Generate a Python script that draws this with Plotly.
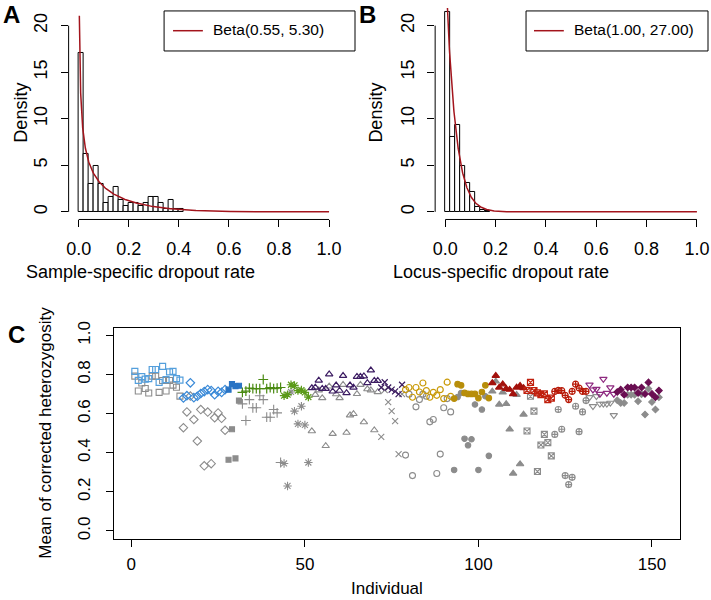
import math
import numpy as np
import plotly.graph_objects as go

W, H = 711, 600

# ---------------- data ----------------
bin_width = 0.02
dens_sample = [17.1, 6.25, 2.96, 4.93, 2.96, 0.99, 1.64, 2.63, 1.32, 0.66, 0.99,
               0.99, 0.66, 0.99, 1.64, 1.64, 0.99, 0.33, 1.32, 0.33, 0.33]
dens_locus = [21.5, 8.04, 9.31, 4.88, 3.12, 2.12, 0.53, 0.18, 0.08]
beta_sample = (0.55, 5.30)
beta_locus = (1.00, 27.00)

x_ticks_ab = [0, 0.2, 0.4, 0.6, 0.8, 1.0]
x_ticklabels_ab = ["0.0", "0.2", "0.4", "0.6", "0.8", "1.0"]
y_ticks_ab = [0, 5, 10, 15, 20]
x_ticks_c = [0, 50, 100, 150]
y_ticks_c = [0, 0.2, 0.4, 0.6, 0.8, 1.0]
y_ticklabels_c = ["0.0", "0.2", "0.4", "0.6", "0.8", "1.0"]

corrected = [
    .816, .770, .790, .777, .779, .826, .826, .760, .842, .774, .814, .816, .779, .772,
    .680, .692, .758, .682, .689, .703, .713, .723, .718, .697, .714, .709, .723,
    .723, .751, .741, .743,
    .709, .715, .731, .728, .728, .728, .775, .728, .734, .728, .731, .734,
    .692, .697, .748, .745, .718, .721, .709, .685,
    .731, .734, .770, .728, .728, .802, .714, .745, .718, .794, .706, .745, .734, .789,
    .789, .792, .757, .822, .769, .769,
    .734, .761, .734, .723, .714, .700, .748,
    .723, .734, .684, .734, .711, .757, .718, .684, .709, .694, .723, .677, .761, .689,
    .677, .751, .745, .706, .701, .701, .701, .680, .711, .745, .680,
    .757, .794, .734, .751, .728, .723, .701, .734, .743, .731,
    .719, .760, .718, .706, .697, .702, .672, .680,
    .714, .719, .718, .694, .672, .714, .751, .731, .714, .714,
    .748, .723, .726, .701, .777, .706, .734, .701,
    .711, .723, .697, .734, .734, .734, .706, .734, .701, .760, .701, .684, .718,
]
uncorrected = [
    .792, .716, .757, .729, .706, .792, .792, .709, .770, .716, .770, .746, .735, .690,
    .528, .609, .690, .570, .460, .621, .333, .608, .344, .579, .604, .576, .515,
    .364, .520, .371, .667,
    .650, .565, .672, .630, .630, .692, .672, .582, .582, .621, .604, .350,
    .345, .230, .711, .613, .548, .638, .542, .350,
    .511, .697, .720, .680, .435, .740, .497, .700, .680, .748, .503, .592, .599, .701,
    .748, .557, .726, .720, .516, .711,
    .481, .720, .659, .613, .562, .393, .700,
    .388, .700, .283, .635, .672, .700, .689, .558, .570, .294, .393, .630, .677, .609,
    .312, .685, .706, .472, .438, .469, .647, .312, .621, .689, .384,
    .714, .765, .647, .709, .650, .520, .294, .697, .342, .596,
    .511, .689, .613, .304, .440, .494, .452, .384,
    .494, .621, .520, .283, .237, .274, .638, .508, .609, .667,
    .684, .638, .689, .650, .650, .650, .655, .592,
    .669, .655, .655, .697, .697, .697, .664, .700, .596, .728, .660, .621, .684,
]
group_sizes = [14, 13, 4, 12, 8, 20, 7, 14, 11, 10, 8, 10, 8, 13]
group_symbols = ["square-open", "diamond-open", "square", "cross-thin", "asterisk",
                 "triangle-up-open", "x-thin", "circle-open", "circle", "triangle-up",
                 "square-x-open", "circle-cross-open", "triangle-down-open", "diamond"]
group_colors = ["#549fdc", "#3a8ad8", "#2a74c4", "#4a8a12", "#5a9a18",
                "#3c1c62", "#3a1a5e", "#c99a08", "#b88e0a", "#a3110c",
                "#c0200e", "#b81a08", "#8e2a80", "#6a0e52"]
group_sizes_px = [6, 6.5, 5, 7, 7, 6.5, 6, 6, 5.5, 6.5, 6, 6, 6.5, 5]
gray = "#8c8c8c"
curve_color = "#a3141c"


def beta_pdf(x, a, b):
    lb = math.lgamma(a) + math.lgamma(b) - math.lgamma(a + b)
    return np.exp((a - 1) * np.log(x) + (b - 1) * np.log1p(-x) - lb)


fig = go.Figure()

# ---------- Panel A ----------
centers_a = [bin_width * (i + 0.5) for i in range(len(dens_sample))]
fig.add_trace(go.Bar(x=centers_a, y=dens_sample, width=bin_width,
                     marker=dict(color="white", line=dict(color="black", width=1)),
                     xaxis="x", yaxis="y", showlegend=False))
xa = np.concatenate([np.geomspace(0.0028, 0.05, 200), np.linspace(0.05, 0.9999, 400)])
fig.add_trace(go.Scatter(x=xa, y=beta_pdf(xa, *beta_sample), mode="lines",
                         line=dict(color=curve_color, width=1.5),
                         xaxis="x", yaxis="y", showlegend=False))

# ---------- Panel B ----------
centers_b = [bin_width * (i + 0.5) for i in range(len(dens_locus))]
fig.add_trace(go.Bar(x=centers_b, y=dens_locus, width=bin_width,
                     marker=dict(color="white", line=dict(color="black", width=1)),
                     xaxis="x2", yaxis="y2", showlegend=False))
xb = np.concatenate([np.linspace(0.0, 0.2, 300), np.linspace(0.2, 0.9999, 200)])
fig.add_trace(go.Scatter(x=xb, y=beta_pdf(np.clip(xb, 1e-9, None), *beta_locus), mode="lines",
                         line=dict(color=curve_color, width=1.5),
                         xaxis="x2", yaxis="y2", showlegend=False))

# ---------- Panel C ----------
individuals = list(range(1, len(corrected) + 1))
start = 0
for n, sym, col, sz in zip(group_sizes, group_symbols, group_colors, group_sizes_px):
    xs = individuals[start:start + n]
    fig.add_trace(go.Scatter(x=xs, y=uncorrected[start:start + n], mode="markers",
                             marker=dict(symbol=sym, size=sz, color=gray,
                                         line=dict(color=gray, width=1.1)),
                             xaxis="x3", yaxis="y3", showlegend=False))
    start += n
start = 0
for n, sym, col, sz in zip(group_sizes, group_symbols, group_colors, group_sizes_px):
    xs = individuals[start:start + n]
    fig.add_trace(go.Scatter(x=xs, y=corrected[start:start + n], mode="markers",
                             marker=dict(symbol=sym, size=sz, color=col,
                                         line=dict(color=col, width=1.2)),
                             xaxis="x3", yaxis="y3", showlegend=False))
    start += n

FONT = "Liberation Sans, Arial, Helvetica, sans-serif"


def px_x(p):
    return p / W


def px_y(p):
    return 1 - p / H


common = dict(showgrid=False, zeroline=False, ticks="outside", ticklen=7, tickwidth=1,
              tickcolor="black", color="black")

fig.update_layout(
    width=W, height=H, margin=dict(l=0, r=0, t=0, b=0),
    paper_bgcolor="white", plot_bgcolor="white", bargap=0,
    font=dict(family=FONT, color="black", size=18),
    xaxis=dict(domain=[px_x(67), px_x(339)], range=[-0.04, 1.04], anchor="y",
               tickvals=x_ticks_ab, ticktext=x_ticklabels_ab, showline=False,
               ticklabelstandoff=6, tickfont=dict(size=18), **common),
    yaxis=dict(domain=[px_y(216), px_y(2)], range=[-0.82, 21.9], anchor="x",
               tickvals=y_ticks_ab, tickangle=-90, showline=False,
               ticklabelstandoff=6, tickfont=dict(size=18), **common),
    xaxis2=dict(domain=[px_x(435.6), px_x(709)], range=[-0.04, 1.04], anchor="y2",
                tickvals=x_ticks_ab, ticktext=x_ticklabels_ab, showline=False,
                ticklabelstandoff=6, tickfont=dict(size=18), **common),
    yaxis2=dict(domain=[px_y(216), px_y(2)], range=[-0.82, 21.9], anchor="x2",
                tickvals=y_ticks_ab, tickangle=-90, showline=False,
                ticklabelstandoff=6, tickfont=dict(size=18), **common),
    xaxis3=dict(domain=[px_x(112.5), px_x(681.7)], range=[-5.04, 158.04], anchor="y3",
                tickvals=x_ticks_c, showline=True, mirror=True, linecolor="black",
                linewidth=1.3, ticklabelstandoff=3, tickfont=dict(size=17), **common),
    yaxis3=dict(domain=[px_y(539), px_y(325.5)], range=[-0.04, 1.04], anchor="x3",
                tickvals=y_ticks_c, ticktext=y_ticklabels_c, tickangle=-90,
                showline=True, mirror=True, linecolor="black", linewidth=1.3,
                ticklabelstandoff=9, tickfont=dict(size=17), **common),
)

shapes = []
# detached R-style axis lines for panels A and B
for xr, yr in [("x", "y"), ("x2", "y2")]:
    shapes.append(dict(type="line", xref=xr, yref=yr + " domain", x0=0, x1=1, y0=0, y1=0,
                       line=dict(color="black", width=1)))
    shapes.append(dict(type="line", xref=xr + " domain", yref=yr, x0=0, x1=0, y0=0, y1=20,
                       line=dict(color="black", width=1)))
# legend boxes
for (bx0, bx1, lx0, lx1) in [(163, 355, 172, 202), (527, 710, 535, 565)]:
    shapes.append(dict(type="rect", xref="paper", yref="paper",
                       x0=px_x(bx0), x1=px_x(bx1), y0=px_y(45.5), y1=px_y(5),
                       line=dict(color="black", width=1), fillcolor="white", layer="above"))
    shapes.append(dict(type="line", xref="paper", yref="paper",
                       x0=px_x(lx0), x1=px_x(lx1), y0=px_y(25), y1=px_y(25),
                       line=dict(color=curve_color, width=1.5), layer="above"))
fig.update_layout(shapes=shapes)

ann = []


def add_text(text, x, y, size=18, angle=0, bold=False, xanchor="center"):
    ann.append(dict(text=f"<b>{text}</b>" if bold else text, x=px_x(x), y=px_y(y),
                    xref="paper", yref="paper", showarrow=False, textangle=angle,
                    xanchor=xanchor, yanchor="middle",
                    font=dict(size=size, family=FONT, color="black")))


add_text("Beta(0.55, 5.30)", 210, 24, size=15.5, xanchor="left")
add_text("Beta(1.00, 27.00)", 573, 24, size=15.5, xanchor="left")
add_text("A", 10, 9, size=24, bold=True)
add_text("B", 368, 9, size=24, bold=True)
add_text("C", 15, 332, size=24, bold=True)
add_text("Density", 19, 108, size=18, angle=-90)
add_text("Density", 376, 108, size=18, angle=-90)
add_text("Sample-specific dropout rate", 139, 269, size=18)
add_text("Locus-specific dropout rate", 502, 269, size=18)
add_text("Individual", 387, 589, size=17)
add_text("Mean of corrected heterozygosity", 44, 432, size=17, angle=-90)
fig.update_layout(annotations=ann)

fig.write_html("out.html", config={"displayModeBar": False},
               post_script="document.body.style.margin='0';document.body.style.padding='0';")
